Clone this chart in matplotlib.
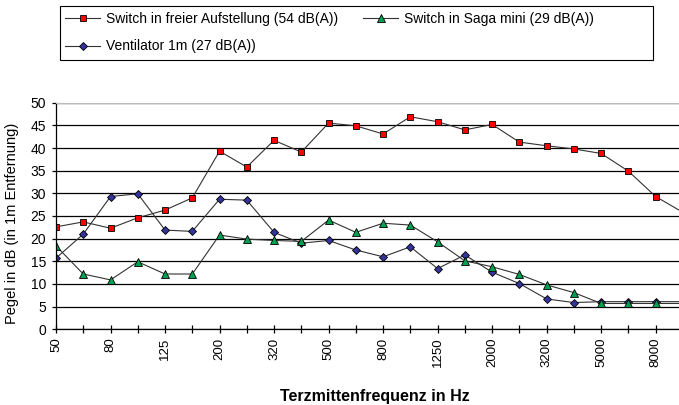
from matplotlib import pyplot as plt
from matplotlib.patches import Rectangle
import numpy as np

# terz band centre frequencies (Hz)
freqs = ['50', '63', '80', '100', '125', '160', '200', '250', '320', '400',
         '500', '630', '800', '1000', '1250', '1600', '2000', '2500', '3200',
         '4000', '5000', '6300', '8000', '10000']

switch_frei = [22.6, 23.7, 22.3, 24.6, 26.3, 29.0, 39.3, 35.8, 41.7, 39.1,
               45.5, 44.9, 43.1, 46.9, 45.8, 44.0, 45.2, 41.3, 40.5, 39.8,
               38.8, 34.9, 29.3, 25.8]
switch_saga = [18.4, 12.2, 10.9, 14.9, 12.2, 12.2, 20.8, 19.9, 19.6, 19.4,
               24.1, 21.4, 23.4, 23.0, 19.3, 15.1, 13.8, 12.1, 9.8, 8.1,
               5.7, 5.7, 5.7, 5.7]
ventilator = [15.7, 21.0, 29.3, 29.9, 21.9, 21.6, 28.7, 28.5, 21.4, 19.0,
              19.6, 17.5, 16.0, 18.2, 13.4, 16.4, 12.6, 10.1, 6.7, 5.9,
              6.1, 6.1, 6.1, 6.1]

labels = ['Switch in freier Aufstellung (54 dB(A))',
          'Ventilator 1m (27 dB(A))',
          'Switch in Saga mini (29 dB(A))']

plt.rcParams['font.family'] = ['Liberation Sans', 'DejaVu Sans']

W, H = 679, 405
fig = plt.figure(figsize=(W / 100, H / 100), dpi=100)
# plot area runs past the right edge of the picture (clipped like the original)
ax = fig.add_axes([56 / W, 75.7 / H, 626.9 / W, 226.6 / H])

x = np.arange(len(freqs))
line_kw = dict(color='#333333', lw=0.8, markeredgecolor='black', markeredgewidth=0.6)
h1, = ax.plot(x, switch_frei, marker='s', markersize=5, markerfacecolor='#FF0000', **line_kw)
h2, = ax.plot(x, ventilator, marker='D', markersize=4.2, markerfacecolor='#333399', **line_kw)
h3, = ax.plot(x, switch_saga, marker='^', markersize=5.5, markerfacecolor='#00A050', **line_kw)

ax.set_xlim(0, len(freqs) - 1)
ax.set_ylim(0, 50)
ax.set_yticks(np.arange(0, 51, 5))
ax.set_xticks(x)
ax.set_xticklabels([f if i % 2 == 0 else '' for i, f in enumerate(freqs)], rotation=90)
ax.yaxis.grid(True, color='black', lw=0.9)
ax.set_axisbelow(True)

ax.spines['right'].set_visible(False)
ax.spines['top'].set_color('#BBBBBB')
ax.spines['left'].set_linewidth(0.9)
ax.spines['bottom'].set_linewidth(0.9)

ax.tick_params(axis='x', direction='inout', length=6, width=0.9, labelsize=9.5, pad=3)
ax.tick_params(axis='y', direction='out', length=3, width=0.9, labelsize=10, pad=4)

fig.text(12 / W, (H - 223) / H, 'Pegel in dB (in 1m Entfernung)', rotation=90,
         ha='center', va='center', fontsize=10.5)
fig.text(375 / W, (H - 396) / H, 'Terzmittenfrequenz in Hz', ha='center', va='center',
         fontsize=11.5, fontweight='bold')

# legend box (wider than its entries, as in the original)
fig.patches.append(Rectangle((60 / W, 1 - 60 / H), 593 / W, 54 / H,
                             transform=fig.transFigure, fill=False,
                             edgecolor='black', lw=0.8))
leg = fig.legend([h1, h2, h3], labels, ncol=2, loc='upper left',
                 bbox_to_anchor=(61 / W, 1 - 8 / H), fontsize=10, frameon=False,
                 handlelength=2.5, handletextpad=0.45, columnspacing=1.8,
                 borderpad=0.3, borderaxespad=0, labelspacing=0.95)

fig.savefig('out.png', dpi=100)
